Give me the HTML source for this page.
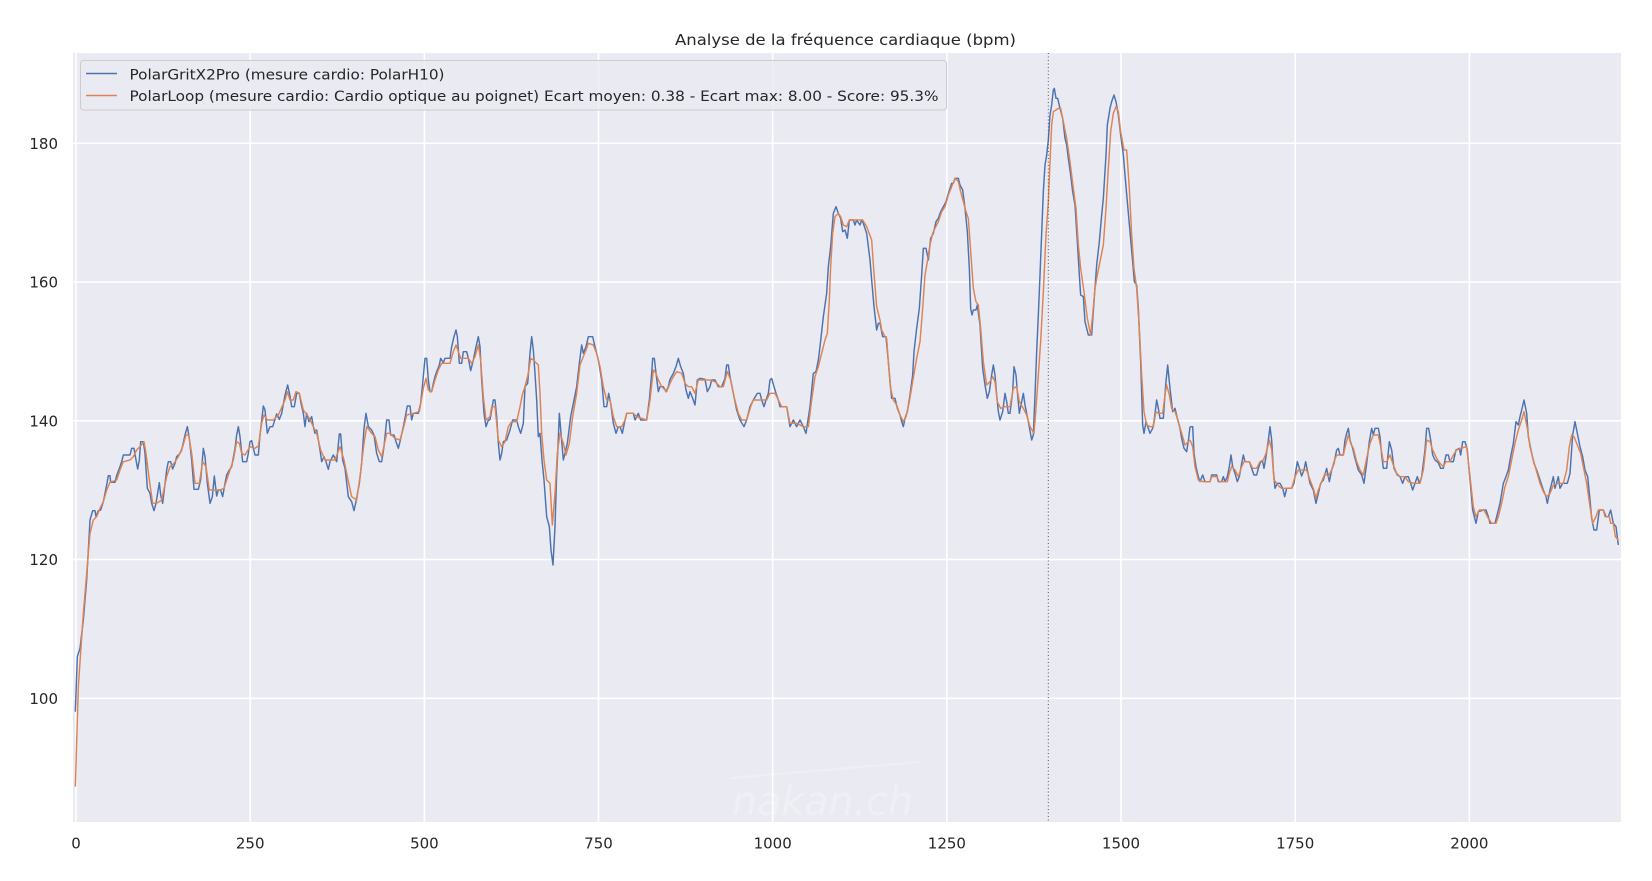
<!DOCTYPE html>
<html>
<head>
<meta charset="utf-8">
<style>
html,body{margin:0;padding:0;background:#fff;}
svg{display:block;}
text{font-family:"DejaVu Sans","Liberation Sans",sans-serif;fill:#262626;}
</style>
</head>
<body>
<svg width="1652" height="881" viewBox="0 0 1652 881" xmlns="http://www.w3.org/2000/svg">
<defs>
<clipPath id="pc"><rect x="73" y="53" width="1548" height="769"/></clipPath>
</defs>
<rect x="0" y="0" width="1652" height="881" fill="#ffffff"/>
<rect x="73" y="53" width="1548" height="769" fill="#EAEAF2"/>
<!-- grid -->
<g stroke="#ffffff" stroke-width="1.6">
<line x1="76" y1="53" x2="76" y2="822"/>
<line x1="250.2" y1="53" x2="250.2" y2="822"/>
<line x1="424.4" y1="53" x2="424.4" y2="822"/>
<line x1="598.5" y1="53" x2="598.5" y2="822"/>
<line x1="772.7" y1="53" x2="772.7" y2="822"/>
<line x1="946.9" y1="53" x2="946.9" y2="822"/>
<line x1="1121" y1="53" x2="1121" y2="822"/>
<line x1="1295.2" y1="53" x2="1295.2" y2="822"/>
<line x1="1469.4" y1="53" x2="1469.4" y2="822"/>
<line x1="73" y1="143.3" x2="1621" y2="143.3"/>
<line x1="73" y1="282.1" x2="1621" y2="282.1"/>
<line x1="73" y1="420.8" x2="1621" y2="420.8"/>
<line x1="73" y1="559.5" x2="1621" y2="559.5"/>
<line x1="73" y1="698.3" x2="1621" y2="698.3"/>
</g>
<!-- watermark -->
<g opacity="0.28">
<text x="732" y="815" font-size="40" fill="#ffffff" style="fill:#ffffff" textLength="181" lengthAdjust="spacingAndGlyphs" font-style="italic">nakan.ch</text>
<line x1="730" y1="778" x2="920" y2="762" stroke="#ffffff" stroke-width="2"/>
</g>
<g clip-path="url(#pc)" fill="none" stroke-linejoin="round">
<!-- BLUE -->
<g stroke="#4C72B0" stroke-width="1.45">
<polyline vector-effect="non-scaling-stroke" transform="translate(70,320) scale(0.333333)" points="16,1175 22,1010 30,985 40,900 50,780 60,600 68,572 75,572 78,590 85,572 92,570 100,545 110,495 115,467 120,467 122,487 135,487 140,467 150,440 155,425 160,405 180,405 185,385 192,385 198,420 203,447 208,420 212,365 220,365 225,400 232,505 240,520 245,550 252,572 258,550 268,488 272,525 278,550 290,450 295,425 302,425 308,447 315,430 320,410 330,400 335,390 345,345 352,320 358,355 365,420 372,508 385,508 392,480 400,385 405,410 412,490 420,550 427,530 433,468 440,528 445,510 452,510 458,530 465,490 470,465 478,450 485,440 495,385 500,345 505,320 510,350 518,425 530,425 535,400 540,365 545,362 550,385 555,405 565,405 570,345 580,258 585,270 592,340 600,320 608,320 615,298 620,282 628,298 635,280 645,225 653,195 660,228 665,260 673,260 680,220 688,220 693,250 700,280 705,320 710,280 717,305 725,290 730,320 735,340 740,330 750,390 755,425 762,410 768,425 775,448 780,425 790,405 800,425 808,342 812,342 818,420 825,445 835,530 845,545 852,572 858,545 868,490 875,430 882,325 888,280 895,320 905,330 912,345 920,400 928,425 935,425 942,380 950,300 957,300 962,345 972,345 978,365 985,385 990,365 1000,320 1012,258 1020,258 1025,300 1030,280 1045,280 1052,250 1058,190 1065,115 1070,115 1075,180 1080,215 1085,215 1090,190 1095,170 1100,155 1108,135 1112,115 1120,128 1125,115 1140,115 1145,80 1152,50 1158,30 1162,50 1168,130 1175,130 1180,95 1190,95 1195,115 1202,152 1210,120 1218,80 1225,50 1230,80 1235,180 1242,280 1248,320 1255,300 1260,300"/>
<polyline vector-effect="non-scaling-stroke" transform="translate(480,160) scale(0.333333)" points="30,780 35,750 40,720 45,720 50,770 55,850 60,900 65,880 70,845 80,840 90,810 98,780 110,780 115,800 122,820 130,790 135,680 143,670 150,580 155,530 160,570 165,640 170,720 175,830 180,820 186,900 192,960 200,1070 208,1100 213,1170 219,1215 225,1100 230,940 234,860 238,760 243,820 250,900 255,880 262,850 272,770 280,730 290,680 298,610 305,555 310,580 318,560 325,530 338,530 345,560 355,600 365,660 372,740 380,740 386,700 392,730 400,790 408,820 415,800 420,800 427,820 433,790 440,760 460,760 465,780 475,760 482,780 492,780 500,780 508,720 515,640 518,595 523,595 528,640 535,695 540,680 550,680 558,695 565,680 570,658 580,640 588,620 595,595 602,620 610,640 618,690 625,715 630,695 638,715 645,735 652,660 660,655 675,658 682,695 690,680 695,660 705,660 715,680 725,680 735,655 740,615 745,615 750,650 760,700 770,750 780,780 792,800 800,780 810,740 820,720 832,700 840,700 845,720 852,740 858,720 865,700 870,660 875,655 882,680 888,700 895,720 900,740 910,740 920,740 930,800 940,780 950,800 960,780 970,800 978,820 990,740 1000,640 1008,635 1015,600 1020,560 1030,470 1040,400 1045,320 1052,260 1060,160 1068,140 1075,160 1082,175 1088,215 1095,210 1102,235 1108,180 1120,180 1125,195 1130,180 1140,195 1145,180 1150,190 1160,220 1170,300 1175,360 1182,440 1190,510 1195,490 1200,490"/>
<polyline vector-effect="non-scaling-stroke" transform="translate(870,75) scale(0.333333)" points="30,745 38,785 48,785 55,860 60,920 65,970 75,970 82,1000 90,1020 95,1040 100,1055 105,1030 112,1010 120,960 128,900 132,830 140,760 148,700 155,600 160,520 168,520 175,555 182,490 190,475 198,440 205,430 212,410 220,395 228,380 235,355 240,340 245,325 250,325 255,310 265,310 270,330 278,345 285,400 292,470 298,580 302,700 306,720 310,705 318,705 322,690 330,750 338,880 345,930 352,970 358,950 365,900 370,870 375,900 380,960 385,1010 390,1035 398,1010 405,955 410,980 415,1015 420,1015 428,950 432,875 438,900 442,950 448,1015 455,980 460,955 465,990 475,1040 485,1095 490,1080 495,960 500,830 505,720 510,600 520,350 525,270 530,240 535,195 540,120 545,90 550,45 553,40 558,70 563,70 570,100 578,130 585,190 590,210 595,250 602,300 608,350 615,390 622,500 628,600 632,660 640,665 645,740 655,780 665,780 672,680 680,570 688,500 695,420 700,370 708,240 712,150 720,100 725,80 732,60 738,80 745,120 752,180 760,240 765,300 772,380 780,470 788,560 793,620 800,630 805,700 812,860 818,1050 822,1075 828,1040 835,1060 840,1075 848,1060 852,1040 860,975 865,1000 870,1030 880,1030 887,930 893,870 900,940 908,1010 915,1000 922,1030 930,1060 935,1090 942,1120 950,1130 956,1090 960,1055"/>
<polyline vector-effect="non-scaling-stroke" transform="translate(1190,370) scale(0.333333)" points="0,170 8,170 12,250 18,290 25,320 30,335 38,315 45,335 60,335 65,315 80,315 85,335 95,335 100,320 105,335 112,320 118,290 123,255 128,290 135,310 142,335 148,320 155,280 160,255 165,275 178,275 185,295 192,315 200,315 205,295 212,275 218,275 222,295 228,260 235,210 240,170 245,210 250,300 255,355 262,340 270,340 278,355 284,380 290,355 305,355 312,340 318,300 322,275 328,295 335,318 342,300 347,275 352,300 360,340 370,360 378,400 385,370 392,340 400,330 410,295 418,335 425,300 432,280 440,240 445,235 450,255 460,255 465,210 470,190 475,175 480,210 488,235 495,265 505,300 515,315 522,340 530,280 538,215 545,175 550,195 555,175 565,175 570,200 575,255 580,295 590,295 598,215 605,240 612,295 622,315 630,320 638,340 645,320 655,320 662,340 668,360 675,340 682,320 688,340 695,320 705,240 710,175 716,175 722,210 728,255 735,270 745,278 752,295 760,295 768,255 775,255 780,275 790,275 798,240 808,235 812,255 818,215 825,215 832,240 840,330 848,420 858,460 865,425 880,420 888,420 895,440 900,460 915,460 920,440 930,400 940,340 948,320 955,300 962,260 970,220 978,155 985,165 990,140 995,120 1002,90 1010,130 1015,200 1025,250 1032,280 1040,300 1050,330 1060,360 1068,380 1072,400 1080,360 1090,320 1095,355 1105,320 1110,355 1118,340 1132,340 1140,310 1148,195 1155,155 1162,190 1170,230 1178,260 1185,300 1193,320 1200,390 1205,445 1212,480 1220,480 1228,420 1240,420 1248,440 1255,440 1262,420 1270,460 1278,470 1285,525"/>
</g>
<!-- ORANGE -->
<g stroke="#DD8452" stroke-width="1.45">
<polyline vector-effect="non-scaling-stroke" transform="translate(70,320) scale(0.333333)" points="16,1400 25,1100 40,880 50,760 60,640 70,600 80,590 90,565 100,545 110,510 120,487 140,480 150,450 160,425 180,420 190,410 200,390 210,380 222,365 228,400 238,480 248,550 260,550 275,540 290,470 300,440 312,430 325,410 338,380 348,345 356,345 365,400 375,490 388,490 398,425 408,440 418,510 450,510 462,505 475,465 490,420 500,365 508,370 515,400 525,405 540,380 555,385 565,378 575,310 582,285 592,300 610,300 625,285 645,240 652,215 660,240 670,240 678,215 688,220 700,270 715,290 725,310 740,340 752,390 765,420 795,420 810,380 822,420 832,470 845,530 860,540 870,470 882,370 890,320 905,340 915,350 925,390 935,410 950,340 960,340 975,355 990,360 1000,325 1010,285 1030,280 1048,275 1060,205 1068,175 1075,210 1085,215 1095,180 1105,150 1115,130 1140,130 1150,95 1158,75 1165,95 1172,115 1195,115 1205,130 1215,110 1225,75 1232,120 1240,230 1248,300 1260,290"/>
<polyline vector-effect="non-scaling-stroke" transform="translate(480,160) scale(0.333333)" points="30,770 35,740 45,740 55,840 65,860 75,845 85,800 95,785 110,785 120,740 128,700 135,680 145,640 152,595 160,600 175,615 180,700 185,820 192,900 200,960 210,970 217,1095 225,1000 232,880 240,820 250,850 258,885 268,850 278,770 290,700 300,615 310,590 318,570 325,550 340,555 350,580 360,620 370,680 380,720 390,720 400,770 410,800 425,800 435,780 440,760 460,760 470,770 500,780 510,720 520,630 528,640 535,660 545,680 560,695 570,670 580,650 590,635 605,640 615,670 625,680 635,680 645,700 655,660 665,660 675,660 690,660 705,665 720,680 730,680 742,635 752,660 762,710 775,760 785,780 800,780 812,740 820,720 860,720 870,700 885,700 895,720 905,740 920,740 930,790 950,790 970,800 985,800 995,720 1005,650 1015,620 1025,580 1035,540 1042,520 1048,420 1052,320 1058,220 1065,170 1075,160 1082,170 1090,195 1100,200 1108,180 1140,180 1148,180 1160,200 1175,240 1182,340 1190,440 1200,480"/>
<polyline vector-effect="non-scaling-stroke" transform="translate(870,75) scale(0.333333)" points="30,735 35,765 45,785 50,790 55,860 62,940 70,975 80,990 90,1020 100,1040 108,1025 118,980 128,920 140,850 150,800 158,700 165,600 172,560 180,510 188,475 195,460 205,440 215,410 225,395 235,360 245,335 255,310 265,320 272,350 280,380 288,410 295,430 300,500 310,640 318,680 325,690 332,760 340,860 350,930 360,920 368,905 375,920 382,980 392,1000 405,995 420,995 430,940 440,935 448,980 460,1000 470,1020 480,1055 492,1075 498,1000 505,900 512,800 520,650 528,480 535,380 540,260 545,150 550,110 558,105 565,100 572,100 580,140 590,190 600,260 610,340 618,400 625,510 632,580 642,650 652,730 662,780 668,720 675,640 682,600 690,560 700,510 708,400 715,280 722,170 730,115 738,95 745,110 752,170 762,225 770,225 778,340 785,480 792,580 800,640 808,760 815,900 822,1010 830,1050 840,1055 850,1055 858,1010 865,1015 878,1015 885,960 890,930 898,960 905,1000 915,1010 925,1040 935,1075 945,1110 960,1095"/>
<polyline vector-effect="non-scaling-stroke" transform="translate(1190,370) scale(0.333333)" points="0,210 8,230 15,290 25,330 40,335 60,335 65,320 80,320 88,335 112,335 118,310 125,290 135,300 145,320 155,290 162,275 178,275 188,295 200,295 210,275 220,270 228,250 238,210 245,240 252,330 260,340 268,350 275,355 305,355 315,320 325,300 340,300 350,300 360,330 370,355 378,385 385,360 395,335 405,310 415,320 425,300 432,275 440,255 460,255 468,220 475,195 482,220 490,235 500,275 510,300 520,315 530,265 540,220 550,195 565,195 572,230 580,275 590,275 600,255 610,285 620,310 630,320 645,320 655,335 672,340 690,340 700,300 710,210 720,215 728,240 740,265 750,280 760,290 768,275 780,275 790,255 800,240 812,235 830,230 840,320 850,410 858,440 868,420 882,420 895,445 905,460 918,460 925,440 935,400 945,350 955,320 965,270 975,220 985,180 995,150 1002,125 1012,175 1020,230 1030,270 1040,305 1050,340 1060,365 1070,380 1080,370 1090,345 1105,340 1120,340 1130,300 1138,230 1145,195 1152,200 1160,220 1172,250 1180,290 1190,340 1200,410 1208,460 1218,440 1225,420 1240,420 1245,440 1258,440 1262,460 1270,460 1276,500 1285,510"/>
</g>
<!-- vertical dotted line -->
<line x1="1048.3" y1="53" x2="1048.3" y2="822" stroke="#555555" stroke-width="1" stroke-dasharray="1,2.5"/>
</g>
<!-- legend -->
<rect x="80.5" y="60.5" width="866" height="49.5" rx="3" ry="3" fill="#EAEAF2" fill-opacity="0.8" stroke="#CCCCCC" stroke-width="1"/>
<line x1="86" y1="73.5" x2="117" y2="73.5" stroke="#4C72B0" stroke-width="1.4"/>
<line x1="86" y1="95.5" x2="117" y2="95.5" stroke="#DD8452" stroke-width="1.4"/>
<text x="129.5" y="79.5" font-size="14" textLength="315" lengthAdjust="spacingAndGlyphs">PolarGritX2Pro (mesure cardio: PolarH10)</text>
<text x="129.5" y="101" font-size="14" textLength="809" lengthAdjust="spacingAndGlyphs">PolarLoop (mesure cardio: Cardio optique au poignet) Ecart moyen: 0.38 - Ecart max: 8.00 - Score: 95.3%</text>
<!-- title -->
<text x="675" y="45" font-size="15.5" textLength="341" lengthAdjust="spacingAndGlyphs">Analyse de la fréquence cardiaque (bpm)</text>
<!-- y ticks -->
<g font-size="15" text-anchor="end">
<text x="58" y="148.8">180</text>
<text x="58" y="287.6">160</text>
<text x="58" y="426.3">140</text>
<text x="58" y="565">120</text>
<text x="58" y="703.8">100</text>
</g>
<!-- x ticks -->
<g font-size="15" text-anchor="middle">
<text x="76" y="848.3">0</text>
<text x="250.2" y="848.3">250</text>
<text x="424.4" y="848.3">500</text>
<text x="598.5" y="848.3">750</text>
<text x="772.7" y="848.3">1000</text>
<text x="946.9" y="848.3">1250</text>
<text x="1121" y="848.3">1500</text>
<text x="1295.2" y="848.3">1750</text>
<text x="1469.4" y="848.3">2000</text>
</g>
</svg>
</body>
</html>
